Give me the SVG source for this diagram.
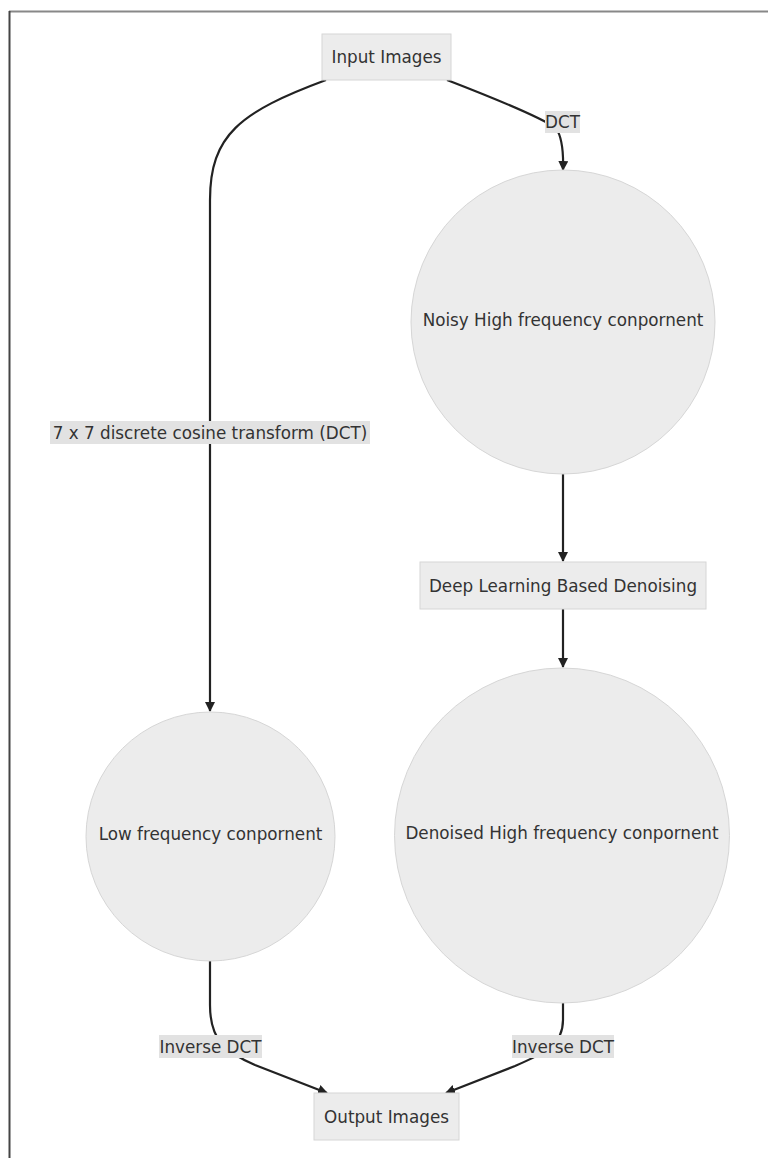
<svg xmlns="http://www.w3.org/2000/svg" width="768" height="1158" viewBox="0 0 768 1158">
<style>
.node{fill:#ececec;stroke:#d6d6d6;stroke-width:1}
.t{font-family:"DejaVu Sans","Liberation Sans",sans-serif;font-size:16.8px;fill:#333;text-anchor:middle;dominant-baseline:central}
.edge{fill:none;stroke:#222;stroke-width:2.2}
.lbl{fill:#e2e2e2}
</style>
<defs>
<marker id="arr" viewBox="0 0 10 10" refX="9" refY="5" markerWidth="10" markerHeight="10" markerUnits="userSpaceOnUse" orient="auto">
<path d="M0,0 L10,5 L0,10 z" fill="#222"/>
</marker>
</defs>
<rect width="768" height="1158" fill="#fff"/>
<line x1="9" y1="11.5" x2="768" y2="11.5" stroke="#888" stroke-width="2"/>
<line x1="9.5" y1="11" x2="9.5" y2="1158" stroke="#444" stroke-width="2"/>
<g id="connectors">
<path class="edge" d="M326,80 C240,112 210,135 210,200 L210,711" marker-end="url(#arr)"/>
<path class="edge" d="M447,80 Q535,114 556,128 Q564,140 563,170" marker-end="url(#arr)"/>
<path class="edge" d="M563,473 L563,561" marker-end="url(#arr)"/>
<path class="edge" d="M563,609 L563,667" marker-end="url(#arr)"/>
<path class="edge" d="M210,961 L210,1005 C210,1040 225,1052 255,1065 L327,1093" marker-end="url(#arr)"/>
<path class="edge" d="M563,1003 L563,1020 C563,1045 545,1053 515,1066 L446,1093" marker-end="url(#arr)"/>
<rect class="lbl" x="545" y="111" width="35" height="22"/>
<text class="t" x="562.5" y="122">DCT</text>
<rect class="lbl" x="50" y="421" width="320" height="23"/>
<text class="t" x="210" y="432.5">7 x 7 discrete cosine transform (DCT)</text>
<rect class="lbl" x="159" y="1035" width="103" height="23"/>
<text class="t" x="210.5" y="1046.5">Inverse DCT</text>
<rect class="lbl" x="512" y="1035" width="102" height="23"/>
<text class="t" x="563" y="1046.5">Inverse DCT</text>
</g>
<g id="input-images">
<rect class="node" x="322" y="34" width="129" height="46"/>
<text class="t" x="386.5" y="57">Input Images</text>
</g>
<g id="noisy-high">
<circle class="node" cx="563" cy="322" r="152"/>
<text class="t" x="563" y="320">Noisy High frequency conpornent</text>
</g>
<g id="deep-learning">
<rect class="node" x="420" y="562" width="286" height="47"/>
<text class="t" x="563" y="585.5">Deep Learning Based Denoising</text>
</g>
<g id="denoised-high">
<circle class="node" cx="562" cy="835.5" r="167.5"/>
<text class="t" x="562" y="833">Denoised High frequency conpornent</text>
</g>
<g id="low-frequency">
<circle class="node" cx="210.5" cy="836.5" r="124.5"/>
<text class="t" x="210.5" y="834">Low frequency conpornent</text>
</g>
<g id="output-images">
<rect class="node" x="314" y="1093" width="145" height="47"/>
<text class="t" x="386.5" y="1116.5">Output Images</text>
</g>
</svg>
